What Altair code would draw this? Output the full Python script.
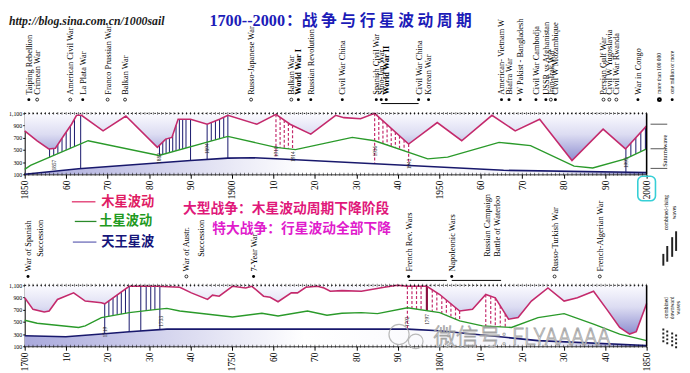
import altair as alt
import numpy as np
import pandas as pd

# ---------------- top panel curves (1850-2000) ----------------
top_jup_year = [1850, 1853, 1855.8, 1857.4, 1859.4, 1861.3, 1862.5, 1863.7, 1868.9, 1874.4,
                1882, 1884, 1885.5, 1887, 1890, 1894, 1897, 1899, 1906, 1910.6,
                1914, 1919, 1925, 1927, 1931, 1934.4, 1942.6, 1949.5, 1955.4, 1962.7,
                1968.3, 1974.2, 1982, 1989.5, 1994.9, 2000]
top_jup_val = [813, 650, 516, 527, 732, 922, 1068, 1068, 813, 1057,
               543, 678, 705, 1003, 1003, 922, 1003, 1068, 922, 1084,
               922, 759, 1068, 1030, 1013, 1100, 597, 949, 651, 1068,
               813, 1003, 327, 841, 516, 895]
top_sat_year = [1850, 1851.4, 1865.3, 1882.4, 1899, 1910.6, 1915.3, 1929, 1934.4, 1947.2,
                1952, 1964.4, 1972, 1982.5, 1987, 1994.9, 2000]
top_sat_val = [181, 246, 651, 408, 722, 543, 505, 705, 651, 354,
               381, 624, 570, 235, 203, 354, 516]
top_ura_year = [1850, 1863, 1890, 1899, 1905, 1910.6, 1934.4, 1965.5, 2000]
top_ura_val = [100, 192, 327, 365, 372, 354, 273, 165, 130]

# ---------------- bottom panel curves (1700-1850) ----------------
bot_jup_year = [1700, 1702, 1704.7, 1705.9, 1707.9, 1711.8, 1714.6, 1718.5, 1719.3, 1725.2,
                1731.9, 1737.4, 1740.2, 1744.1, 1745.3, 1746.9, 1750.1, 1753.3, 1754.8, 1757.6,
                1759.2, 1761.1, 1764.3, 1765.8, 1767.8, 1770.6, 1772.2, 1773.7, 1776.5, 1781.2,
                1786.7, 1789.9, 1792.3, 1797, 1800.1, 1804.9, 1808, 1811.2, 1813.5, 1816.7,
                1819, 1822.2, 1826.2, 1830.1, 1833.3, 1837.2, 1840.4, 1843.5, 1845.9, 1847.5,
                1850]
bot_jup_val = [895, 705, 662, 678, 868, 976, 841, 813, 797, 1084,
               1084, 1068, 976, 868, 938, 922, 1084, 1057, 1084, 922,
               905, 830, 976, 976, 1068, 1084, 1057, 1003, 1013, 1003,
               1068, 1100, 1084, 1084, 949, 678, 705, 949, 895, 543,
               570, 841, 1057, 841, 895, 1003, 705, 408, 300, 340,
               800]
bot_sat_year = [1700, 1703, 1713, 1714.6, 1718.5, 1725.2, 1731.9, 1734.3, 1737.4, 1750.1,
                1757.2, 1761.1, 1768.2, 1772.9, 1776.5, 1781.2, 1785.1, 1792.3, 1800.1, 1804.9,
                1810.4, 1817.4, 1823.8, 1830.1, 1837.2, 1843.5, 1850]
bot_sat_val = [527, 478, 408, 435, 570, 651, 705, 722, 678, 581,
               641, 597, 678, 608, 641, 651, 635, 732, 651, 516,
               435, 408, 570, 635, 462, 300, 192]
bot_ura_year = [1700, 1709.9, 1718.5, 1725.2, 1734.3, 1792.3, 1800, 1823.8, 1850]
bot_ura_val = [273, 257, 300, 338, 381, 381, 354, 192, 111]

# ---------------- war hatching (years) ----------------
top_nav_part = [1856, 1857, 1858, 1859, 1860, 1861, 1862,
                1882.5, 1883.3, 1884.1, 1884.9, 1885.7, 1886.5, 1887.3, 1888.1, 1888.9,
                1895, 1896, 1897, 1898, 1996.2, 1997.4, 1998.6, 1999.7]
top_nav_full = [1863.5, 1890, 1894, 1899, 1995]
top_dash_part = [1911.6, 1912.6, 1913.6, 1914.6,
                 1935.4, 1936.4, 1937.4, 1938.4, 1939.4, 1940.4, 1941.5]
top_dash_full = [1910.6, 1934.4, 1942.6]
bot_nav_part = [1720.3, 1721.3, 1722.3, 1723.3, 1724.3, 1729.3, 1730.4, 1731.4]
bot_nav_full = [1719.3, 1725.2, 1728, 1732.6]
bot_dash_part = [1793.4, 1794.5, 1795.6, 1798.3, 1799.4, 1800.6, 1801.7, 1802.8, 1803.9, 1804.9,
                 1811.2, 1812.4, 1813.5, 1814.7, 1815.9]
bot_dash_full = [1792.3]
bot_heavy = [1797]

# small year tags on hatching
top_tag_year = [1857, 1882.5, 1894, 1910.6, 1914.6, 1934.6, 1942.6, 1995]
top_tag_val = [250, 360, 520, 470, 390, 480, 270, 290]
top_tag_text = ["1857", "1882", "1894", "1910", "1914", "1936", "1942", "1995"]
bot_tag_year = [1719.3, 1732.8, 1792.3, 1797]
bot_tag_val = [330, 510, 500, 540]
bot_tag_text = ["1719", "1733", "1792", "1797"]

# ---------------- war labels ----------------
top_war_year = [1851, 1853, 1861, 1864, 1870, 1874.2, 1904.6, 1914.3, 1916, 1919,
                1926.6, 1934.8, 1936, 1937.2, 1945, 1947.4, 1965, 1966.8, 1969.5, 1973.3,
                1975.7, 1976.9, 1978, 1989.6, 1991, 1992.7, 1997.9]
top_war_text = ["Taiping Rebellion", "Crimean War", "American Civil War", "La Plata War",
                "Franco Prussian War", "Balkan War", "Russo-Japanese War", "Balkan War",
                "World War I", "Russian Revolution", "Civil War China", "Spanish Civil War",
                "Sino-Jap War", "World War II", "Civil War China", "Korean War",
                "American- Vietnam W", "Biafra War", "W Pakist - Bangladesh", "Civil War Cambodja",
                "USSR vs Afghanistan", "Iran-Irak War", "Civil W Mozambique", "Persian Gulf War",
                "Civil W Yugoslavia", "Civil War Rwanda", "War in Congo"]
top_war_dot = ["filled", "open", "open", "filled", "open", "open", "open", "open", "filled", "filled",
               "filled", "filled", "filled", "filled", "filled", "filled", "filled", "filled", "filled",
               "filled", "filled", "open", "filled", "open", "open", "open", "filled"]
top_war_bold = [0, 0, 0, 0, 0, 0, 0, 0, 1, 0, 0, 0, 0, 1, 0, 0, 0, 0, 0, 0, 0, 0, 0, 0, 0, 0, 0]

bot_war_year = [1700.8, 1703.8, 1739, 1742.5, 1755.2, 1792.6, 1803, 1811.5, 1814, 1827.8, 1838.7]
bot_war_text = ["War of Spanish", "Succession", "War of Austr.", "Succession", "7-Year War",
                "French Rev. Wars", "Napoleonic Wars", "Russian Campaign", "Battle of Waterloo",
                "Russo-Turkish War", "French-Algerian War"]
bot_war_dot = ["filled", "none", "open", "none", "filled", "filled", "filled", "none", "none",
               "open", "open"]
bot_war_bold = [0] * 11

top_span_start = [1936]
top_span_end = [1945]
bot_span_start = [1792.6, 1803]
bot_span_end = [1801.8, 1814.9]

# ---------------- styling ----------------
W, H = 633, 62
SERIF = "Liberation Serif"
CJK = "Noto Sans CJK SC"
JUP_C = "#c42a6c"
SAT_C = "#2a9a2a"
URA_C = "#18186c"
NAV_C = "#14146a"


def one():
    return pd.DataFrame({"k": [0]})


def txt(text, x, y, size, color="black", font=SERIF, weight="normal", style="normal",
        angle=0, align="left", **kw):
    return alt.Chart(one()).mark_text(
        text=text, font=font, fontSize=size, color=color, fontWeight=weight,
        fontStyle=style, angle=angle, align=align, baseline="middle", **kw
    ).encode(x=alt.value(x), y=alt.value(y))


def hrule(x1, x2, y, color, width=1.5, dash=None):
    kw = {"strokeDash": dash} if dash else {}
    return alt.Chart(one()).mark_rule(color=color, strokeWidth=width, **kw).encode(
        x=alt.value(x1), x2=alt.value(x2), y=alt.value(y))


def vrule(x, y1, y2, color, width=1.5, dash=None):
    kw = {"strokeDash": dash} if dash else {}
    return alt.Chart(one()).mark_rule(color=color, strokeWidth=width, **kw).encode(
        x=alt.value(x), y=alt.value(y1), y2=alt.value(y2))


def make_x(domain):
    return alt.X("year:Q", scale=alt.Scale(domain=domain, nice=False, zero=False),
                 axis=alt.Axis(values=list(range(domain[0], domain[1] + 1, 10)), format="d",
                               labelExpr="datum.value % 50 == 0 ? datum.label : substring(datum.label, 2)",
                               labelAngle=270, labelFont=SERIF, labelFontSize=9.5,
                               labelColor="black", tickColor="black", tickSize=4,
                               domainColor="black", labelPadding=2, title=None, grid=False))


def make_y(field):
    return alt.Y(field, type="quantitative",
                 scale=alt.Scale(domain=[100, 1100], nice=False, zero=False),
                 axis=alt.Axis(values=[100, 300, 500, 700, 900, 1100], labelFont=SERIF,
                               labelFontSize=6, labelColor="black", tickColor="black",
                               tickSize=2, labelPadding=1, domainColor="black",
                               title=None, grid=False))


grad_j = alt.Gradient(gradient="linear", x1=0, x2=0, y1=0, y2=1,
                      stops=[alt.GradientStop(color="#fbfbff", offset=0),
                             alt.GradientStop(color="#dcdcf2", offset=0.45),
                             alt.GradientStop(color="#8e8ed0", offset=1)])
grad_u = alt.Gradient(gradient="linear", x1=0, x2=1, y1=0, y2=0,
                      stops=[alt.GradientStop(color="#a9a9dc", offset=0),
                             alt.GradientStop(color="#ffffff", offset=0.45),
                             alt.GradientStop(color="#f4f4fb", offset=0.85),
                             alt.GradientStop(color="#7a7ab8", offset=1)])


def hatch(part, full, jy, jv, sy, sv, uy, uv):
    rows = [{"year": y, "y1": float(np.interp(y, jy, jv)), "y2": float(np.interp(y, sy, sv))}
            for y in part]
    rows += [{"year": y, "y1": float(np.interp(y, jy, jv)), "y2": float(np.interp(y, uy, uv))}
             for y in full]
    return pd.DataFrame(rows, columns=["year", "y1", "y2"])


def panel(domain, jy, jv, sy, sv, uy, uv, nav_part, nav_full, dash_part, dash_full, heavy,
          war, txt_y, txt_y_nodot, dot_y, tags, spans, span_y, extras):
    X = make_x(domain)
    jdf = pd.DataFrame({"year": jy, "val": jv})
    sdf = pd.DataFrame({"year": sy, "val": sv})
    udf = pd.DataFrame({"year": uy, "val": uv})
    layers = [
        alt.Chart(jdf).mark_area(color=grad_j).encode(x=X, y=make_y("val"), y2=alt.datum(1100)),
        alt.Chart(udf).mark_area(color=grad_u).encode(x=X, y=make_y("val"), y2=alt.datum(100)),
        alt.Chart(hatch(nav_part, nav_full, jy, jv, sy, sv, uy, uv)).mark_rule(
            color=NAV_C, strokeWidth=1).encode(x=X, y=make_y("y1"), y2="y2:Q"),
        alt.Chart(hatch(dash_part, dash_full, jy, jv, sy, sv, uy, uv)).mark_rule(
            color=JUP_C, strokeWidth=1.2, strokeDash=[3, 2]).encode(x=X, y=make_y("y1"), y2="y2:Q"),
        alt.Chart(hatch(heavy, [], jy, jv, sy, sv, uy, uv)).mark_rule(
            color="#8a1040", strokeWidth=2.2).encode(x=X, y=make_y("y1"), y2="y2:Q"),
        alt.Chart(sdf).mark_line(color=SAT_C, strokeWidth=1.4).encode(x=X, y=make_y("val")),
        alt.Chart(udf).mark_line(color=URA_C, strokeWidth=1.6).encode(x=X, y=make_y("val")),
        alt.Chart(jdf).mark_line(color=JUP_C, strokeWidth=1.6).encode(x=X, y=make_y("val")),
        # frame: dotted top, solid right
        alt.Chart(one()).mark_rule(color="black", strokeWidth=1, strokeDash=[1.5, 2.5]).encode(
            x=alt.value(0), x2=alt.value(W), y=alt.value(0)),
        vrule(W, 0, H, "black", 1.6),
        alt.Chart(alt.sequence(domain[0], domain[1] + 1, 1, as_="year")).mark_tick(
            color="black", size=3, thickness=0.7).encode(x=X, y=alt.value(H)),
        alt.Chart(alt.sequence(domain[0], domain[1] + 1, 1, as_="year")).mark_tick(
            color="black", size=3, thickness=0.7).encode(x=X, y=alt.value(0)),
        # small year tags on hatching
        alt.Chart(tags).mark_text(angle=270, fontSize=5.5, font=SERIF, color="#222",
                                  align="center", baseline="middle").encode(
            x=X, y=make_y("val"), text="tag:N"),
    ]
    wl = alt.Chart(war)
    layers += [
        wl.transform_filter("datum.bold == 0 && datum.dot != 'none'").mark_text(
            angle=270, align="left", baseline="middle", font=SERIF, fontSize=8.5,
            color="black").encode(x=X, y=alt.value(txt_y), text="label:N"),
        wl.transform_filter("datum.bold == 1").mark_text(
            angle=270, align="left", baseline="middle", font=SERIF, fontSize=8.5,
            fontWeight="bold", color="black").encode(x=X, y=alt.value(txt_y), text="label:N"),
        wl.transform_filter("datum.dot == 'none'").mark_text(
            angle=270, align="left", baseline="middle", font=SERIF, fontSize=8.5,
            color="black").encode(x=X, y=alt.value(txt_y_nodot), text="label:N"),
        wl.transform_filter("datum.dot == 'filled'").mark_point(
            shape="circle", filled=True, size=9, color="black", opacity=1).encode(
            x=X, y=alt.value(dot_y)),
        wl.transform_filter("datum.dot == 'open'").mark_point(
            shape="circle", filled=False, size=9, color="black", strokeWidth=0.8,
            opacity=1).encode(x=X, y=alt.value(dot_y)),
        alt.Chart(spans).mark_rule(color="black", strokeWidth=1).encode(
            x=X, x2="end:Q", y=alt.value(span_y)),
    ]
    layers += extras
    return alt.layer(*layers).properties(width=W, height=H)


# ---------------- annotation layers ----------------
top_extras = [
    txt("http://blog.sina.com.cn/1000sail", -16, -94, 12, color="#1a1a1a",
        weight="bold", style="italic"),
    txt("1700--2000", 188, -94, 16.5, color="#1c1cb8", weight="bold"),
    txt("\uff1a\u6218 \u4e89 \u4e0e \u884c \u661f \u6ce2 \u52a8 \u5468 \u671f", 266, -94, 16,
        color="#1c1cb8", font=CJK, weight="bold"),
    # 2000 highlight box
    alt.Chart(one()).mark_rect(fillOpacity=0, stroke="#36cfd6", strokeWidth=1.6,
                               cornerRadius=5).encode(
        x=alt.value(W - 9), x2=alt.value(W + 9), y=alt.value(H + 2), y2=alt.value(H + 27)),
    # right-side wave arrows
    hrule(637, 654, 11, "#555", 1),
    hrule(637, 654, 36, "#555", 1),
    hrule(637, 654, 56, "#555", 1),
    txt("Saturn-wave", 652, 38, 6.5, angle=270, align="center"),
    # size legend
    txt("more than 100 000", 646, -20, 5.5, angle=270),
    txt("one million or more", 659, -20, 5.5, angle=270),
    alt.Chart(one()).mark_point(shape="circle", filled=False, size=9, color="black",
                                opacity=1).encode(x=alt.value(646), y=alt.value(-14)),
    alt.Chart(one()).mark_point(shape="circle", filled=True, size=9, color="black",
                                opacity=1).encode(x=alt.value(659), y=alt.value(-14)),
]

bot_extras = [
    # Chinese legend
    hrule(48, 72, -85, "#e0306a", 1.3),
    hrule(51, 73, -65, "#2a8a2a", 1.3),
    hrule(49, 73, -44, "#6a6ab8", 1.3),
    txt("\u6728\u661f\u6ce2\u52a8", 78, -85, 13.5, color="#e01c64", font=CJK, weight="bold"),
    txt("\u571f\u661f\u6ce2\u52a8", 76, -65, 13.5, color="#1f9a1f", font=CJK, weight="bold"),
    txt("\u5929\u738b\u661f\u6ce2", 78, -44, 13.5, color="#16167a", font=CJK, weight="bold"),
    txt("\u5927\u578b\u6218\u4e89\uff1a\u6728\u661f\u6ce2\u52a8\u5468\u671f\u4e0b\u964d\u9636\u6bb5",
        161, -78, 14, color="#e0187a", font=CJK, weight="bold"),
    txt("\u7279\u5927\u6218\u4e89\uff1a\u884c\u661f\u6ce2\u52a8\u5168\u90e8\u4e0b\u964d",
        191, -57, 14, color="#e01ccc", font=CJK, weight="bold"),
    # combined rising / downward legend
    txt("combined-rising", 653, -74, 5.5, angle=270, align="center"),
    txt("waves", 661, -74, 5.5, angle=270, align="center"),
    vrule(650, -32, -20, "#222", 2),
    vrule(654, -40, -24, "#222", 2),
    vrule(659, -49, -29, "#222", 2),
    vrule(663, -55, -35, "#222", 2),
    txt("combined", 653, 23, 5.5, angle=270, align="center"),
    txt("downward", 659, 23, 5.5, angle=270, align="center"),
    txt("waves", 665, 23, 5.5, angle=270, align="center"),
    vrule(650, 44, 58, "#222", 2, [2, 2]),
    vrule(654, 46, 62, "#222", 2, [2, 2]),
    vrule(659, 48, 64, "#222", 2, [2, 2]),
    vrule(663, 50, 66, "#222", 2, [2, 2]),
    # watermark
    alt.Chart(one()).mark_point(shape="circle", filled=False, size=420, color="#aaaaaa",
                                strokeWidth=1.2, opacity=0.8).encode(
        x=alt.value(381), y=alt.value(50)),
    alt.Chart(one()).mark_point(shape="circle", filled=False, size=220, color="#aaaaaa",
                                strokeWidth=1.2, opacity=0.8).encode(
        x=alt.value(398), y=alt.value(57)),
    txt("\u5fae\u4fe1\u53f7: FLYAAAAA", 416, 54, 23, color="#ffffff", font=CJK,
        weight=300, stroke="#9a9a9a", strokeWidth=0.8, opacity=0.9),
]

top_war = pd.DataFrame({"year": top_war_year, "label": top_war_text,
                        "dot": top_war_dot, "bold": top_war_bold})
bot_war = pd.DataFrame({"year": bot_war_year, "label": bot_war_text,
                        "dot": bot_war_dot, "bold": bot_war_bold})
top_tags = pd.DataFrame({"year": top_tag_year, "val": top_tag_val, "tag": top_tag_text})
bot_tags = pd.DataFrame({"year": bot_tag_year, "val": bot_tag_val, "tag": bot_tag_text})
top_spans = pd.DataFrame({"year": top_span_start, "end": top_span_end})
bot_spans = pd.DataFrame({"year": bot_span_start, "end": bot_span_end})

top = panel([1850, 2000], top_jup_year, top_jup_val, top_sat_year, top_sat_val,
            top_ura_year, top_ura_val, top_nav_part, top_nav_full, top_dash_part,
            top_dash_full, [], top_war, -19, -19, -14, top_tags, top_spans, -10, top_extras)
bottom = panel([1700, 1850], bot_jup_year, bot_jup_val, bot_sat_year, bot_sat_val,
               bot_ura_year, bot_ura_val, bot_nav_part, bot_nav_full, bot_dash_part,
               bot_dash_full, bot_heavy, bot_war, -14, -29, -9, bot_tags, bot_spans, -5,
               bot_extras)

chart = alt.vconcat(top, bottom, spacing=113, bounds="flush").properties(
    padding={"top": 2, "left": 0, "right": 0, "bottom": 0}, background="white"
).configure_view(stroke=None)

chart.save("out.html", embed_options={"renderer": "svg", "actions": False})
